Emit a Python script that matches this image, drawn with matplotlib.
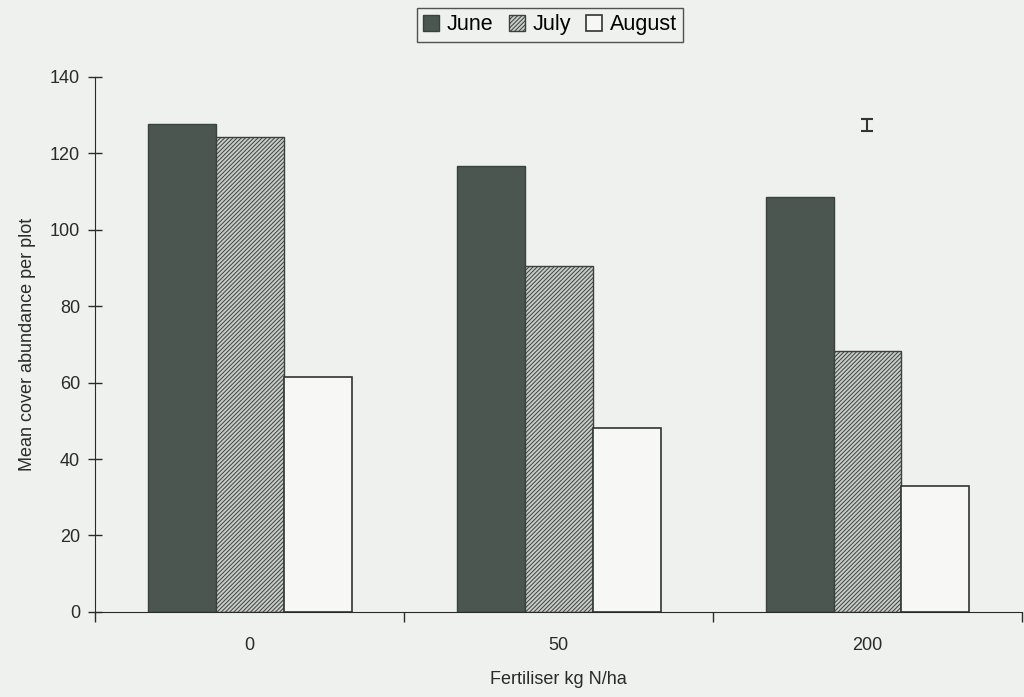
import matplotlib.pyplot as plt
import numpy as np

plt.rcParams['font.family'] = ['Liberation Sans', 'DejaVu Sans']
plt.rcParams['hatch.linewidth'] = 0.7

# Mean cover abundance per plot by fertiliser rate and month
rates = ['0', '50', '200']
june = [127.5, 116.7, 108.6]
july = [124.3, 90.6, 68.3]
august = [61.5, 48.2, 33.0]

# LSD bar
lsd_center = 127.3
lsd_half = 1.5

bg = '#eef1ee'
ink = '#2a2a2a'
fig = plt.figure(figsize=(10.24, 6.97), dpi=100, facecolor=bg)
ax = fig.add_axes([0.093, 0.122, 0.905, 0.768], facecolor=bg)

x = np.arange(len(rates))
w = 0.22
ax.bar(x - w, june, w, color='#4b5651', edgecolor='#3a423e', linewidth=1, label='June')
ax.bar(x, july, w, color='#c9cdca', edgecolor='#3a423e', hatch='////////',
       linewidth=1, label='July')
ax.bar(x + w, august, w, color='#f7f8f6', edgecolor='#2f3532', linewidth=1.2,
       label='August')

ax.errorbar([2.0], [lsd_center], yerr=[lsd_half], fmt='none', ecolor='#333333',
            elinewidth=1.5, capsize=4, capthick=1.5)

ax.set_xlim(-0.5, 2.5)
ax.set_ylim(0, 140)
ax.set_yticks(np.arange(0, 141, 20))
ax.tick_params(axis='y', direction='inout', length=10, width=1, labelsize=13,
               colors=ink, pad=6)

# category labels sit between the boundary ticks
ax.set_xticks([-0.5, 0.5, 1.5, 2.5])
ax.set_xticklabels([])
ax.set_xticks(x, minor=True)
ax.set_xticklabels(rates, minor=True, fontsize=13, color=ink)
ax.tick_params(axis='x', which='major', direction='out', length=7, width=1,
               colors=ink)
ax.tick_params(axis='x', which='minor', length=0, pad=18)

for side in ['top', 'right']:
    ax.spines[side].set_visible(False)
for side in ['left', 'bottom']:
    ax.spines[side].set_color(ink)

ax.set_xlabel('Fertiliser kg N/ha', fontsize=13, color=ink, labelpad=12)
ax.set_ylabel('Mean cover abundance per plot', fontsize=13, color=ink,
              labelpad=10)

leg = fig.legend(loc='upper center', bbox_to_anchor=(0.537, 0.989), ncol=3,
                 frameon=True, fancybox=False, fontsize=15.5, handlelength=0.75,
                 handleheight=0.75, handletextpad=0.35, columnspacing=0.7,
                 borderpad=0.3, borderaxespad=0, edgecolor=ink, facecolor=bg)
leg.get_frame().set_linewidth(1)

fig.savefig('out.png', dpi=100, facecolor=bg)
